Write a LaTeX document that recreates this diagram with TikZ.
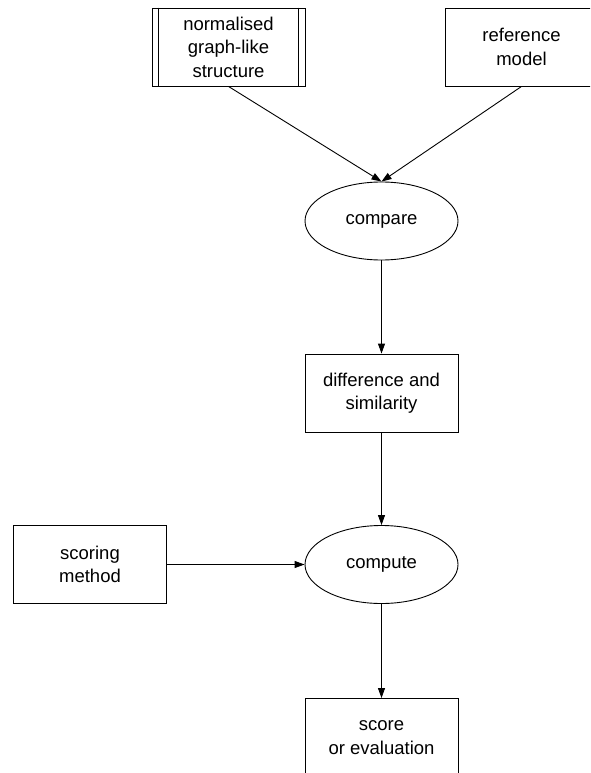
\documentclass[tikz,border=0pt]{standalone}
\usepackage{fontspec}
\setmainfont{Liberation Sans}
\usetikzlibrary{arrows.meta,shapes.geometric}
\tikzset{
	procbox/.style={draw, rectangle, line width=0.9pt, minimum width=153pt, minimum height=78pt, inner sep=0pt, align=center, font=\fontsize{18.5}{23.5}\selectfont},
	taskoval/.style={draw, ellipse, line width=0.9pt, minimum width=153pt, minimum height=78pt, inner sep=0pt, align=center, font=\fontsize{18.5}{23.5}\selectfont},
	flow/.style={line width=0.9pt, -{Triangle[length=10pt,width=7pt]}}
}
\begin{document}
\begin{tikzpicture}[x=1pt,y=1pt]
    \clip (0,0) rectangle (590,-773);
    \node[procbox] (graph) at (228.5,-47) {normalised\\graph-like\\structure};
    \draw[line width=0.9pt] ([xshift=7pt]graph.north west) -- ([xshift=7pt]graph.south west);
    \draw[line width=0.9pt] ([xshift=-7pt]graph.north east) -- ([xshift=-7pt]graph.south east);
    \node[procbox] (refmodel) at (521.5,-47) {reference\\model};
    \node[taskoval] (compare) at (381.5,-221) {compare};
    \node[procbox] (diffsim) at (381.5,-393) {difference and\\similarity};
    \node[taskoval] (compute) at (381.5,-564.5) {compute};
    \node[procbox] (scoring) at (90,-564.5) {scoring\\method};
    \node[procbox] (score) at (381.5,-737.5) {score\\or evaluation};
	\draw[flow] (graph.south) -- (compare.north);
	\draw[flow] (refmodel.south) -- (compare.north);
	\draw[flow] (compare) -- (diffsim);
	\draw[flow] (diffsim) -- (compute);
	\draw[flow] (scoring) -- (compute);
	\draw[flow] (compute) -- (score);
  \end{tikzpicture}
\end{document}
